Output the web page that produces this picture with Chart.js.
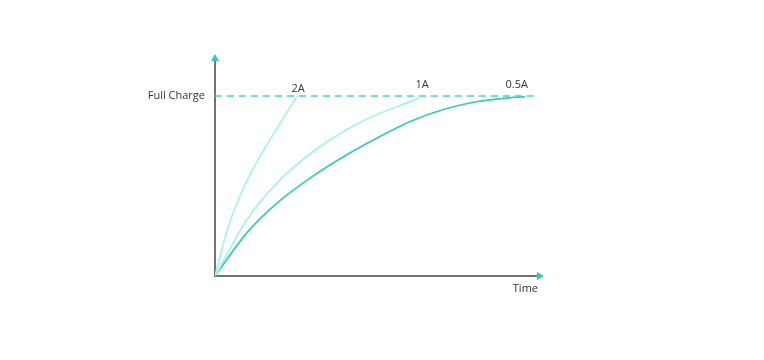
<!DOCTYPE html>
<html>
<head>
<meta charset="utf-8">
<script src="https://cdn.jsdelivr.net/npm/chart.js@4"></script>
<style>
  html, body { margin: 0; padding: 0; background: #fff; }
  #wrap { width: 764px; height: 360px; }
</style>
</head>
<body>
<div id="wrap"><canvas id="chart"></canvas></div>
<script>
// charge curves (x = time, y = fraction of full charge)
const seriesNames = ["2A", "1A", "0.5A"];
const curve2A = [
    { x: 0, y: 0 }, { x: 0.4, y: 0.27 }, { x: 0.9, y: 0.5 },
    { x: 1.4, y: 0.67 }, { x: 1.95, y: 0.835 }, { x: 2.52, y: 1.0 }
];
const curve1A = [
    { x: 0, y: 0 }, { x: 1, y: 0.32 }, { x: 2, y: 0.535 },
    { x: 3, y: 0.69 }, { x: 4, y: 0.81 }, { x: 5, y: 0.9 },
    { x: 6, y: 0.97 }, { x: 6.25, y: 0.99 }
];
const curve05A = [
    { x: 0, y: 0 }, { x: 1, y: 0.245 }, { x: 2, y: 0.42 },
    { x: 3, y: 0.555 }, { x: 4, y: 0.67 }, { x: 5, y: 0.77 },
    { x: 6, y: 0.86 }, { x: 7, y: 0.925 }, { x: 8, y: 0.968 },
    { x: 9, y: 0.99 }, { x: 9.5, y: 0.995 }
];
const labelX = [2.55, 6.35, 9.25];
const fullCharge = 1;
const timeMax = 9.9;
const levelMax = 1.2;

const darkTeal = "#2fcdb9";
const lightTeal = "#a5f3e9";
const dashTeal = "#40d8c6";
const axisGray = "#767173";
const textColor = "#333333";
const fontFamily = "'Open Sans', 'DejaVu Sans', sans-serif";

function curveSet(data, color) {
    return {
        data: data,
        borderColor: color,
        borderWidth: 1.7,
        pointRadius: 0,
        fill: false,
        cubicInterpolationMode: "monotone"
    };
}

// arrow heads on the axes and the curve names
const decorations = {
    id: "decorations",
    afterDraw(chart) {
        const ctx = chart.ctx;
        const area = chart.chartArea;
        const xs = chart.scales.x;
        const ys = chart.scales.y;

        ctx.save();
        ctx.fillStyle = darkTeal;
        ctx.beginPath();
        ctx.moveTo(area.left, area.top - 6);
        ctx.lineTo(area.left - 4, area.top + 1);
        ctx.lineTo(area.left + 4, area.top + 1);
        ctx.closePath();
        ctx.fill();

        ctx.beginPath();
        ctx.moveTo(area.right + 6, area.bottom);
        ctx.lineTo(area.right - 1, area.bottom - 4);
        ctx.lineTo(area.right - 1, area.bottom + 4);
        ctx.closePath();
        ctx.fill();

        ctx.fillStyle = textColor;
        ctx.font = "11px " + fontFamily;
        ctx.textAlign = "center";
        ctx.textBaseline = "bottom";
        const lift = [2, 6, 6];
        seriesNames.forEach((name, i) => {
            ctx.fillText(name, xs.getPixelForValue(labelX[i]), ys.getPixelForValue(fullCharge) - lift[i]);
        });
        ctx.restore();
    }
};

const ctx = document.getElementById("chart").getContext("2d");

new Chart(ctx, {
    type: "line",
    data: {
        datasets: [
            {
                data: [{ x: 0, y: fullCharge }, { x: timeMax, y: fullCharge }],
                borderColor: dashTeal,
                borderWidth: 1.6,
                borderDash: [7, 5],
                pointRadius: 0,
                fill: false
            },
            curveSet(curve2A, lightTeal),
            curveSet(curve1A, lightTeal),
            curveSet(curve05A, darkTeal)
        ]
    },
    options: {
        responsive: true,
        maintainAspectRatio: false,
        animation: false,
        layout: { padding: { left: 0, top: 60, right: 226, bottom: 64.8 } },
        plugins: {
            legend: { display: false },
            tooltip: { enabled: false }
        },
        scales: {
            x: {
                type: "linear",
                min: 0,
                max: timeMax,
                grid: { display: false, drawTicks: false },
                border: { display: true, color: axisGray, width: 2 },
                ticks: { display: false },
                title: {
                    display: true,
                    text: "Time",
                    align: "end",
                    color: textColor,
                    font: { family: fontFamily, size: 11 },
                    padding: { top: 6, bottom: 0 }
                }
            },
            y: {
                type: "linear",
                min: 0,
                max: levelMax,
                afterFit(scale) { scale.width = 215; },
                afterBuildTicks(scale) { scale.ticks = [{ value: fullCharge }]; },
                grid: { display: false, drawTicks: false },
                border: { display: true, color: axisGray, width: 2 },
                ticks: {
                    color: textColor,
                    padding: 10,
                    font: { family: fontFamily, size: 11 },
                    callback: () => "Full Charge"
                }
            }
        }
    },
    plugins: [decorations]
});
</script>
</body>
</html>
